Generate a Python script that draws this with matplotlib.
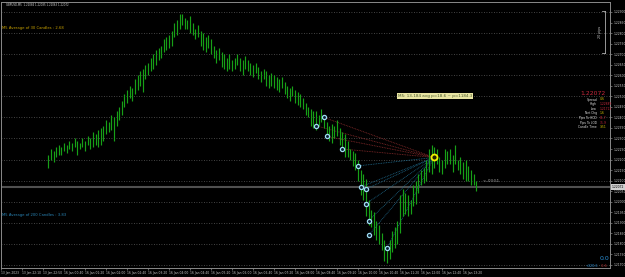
import matplotlib
matplotlib.use("Agg")
import matplotlib.pyplot as plt

# ---------------- data ----------------
symbol_title = "GBPUSD,M5  1.22084 1.22085 1.22063 1.22072"
first_bar = 18
bar_highs = [
    1.2222, 1.2225, 1.2224, 1.2226, 1.2227, 1.2226, 1.2228, 1.2227, 1.2229, 1.2228,
    1.2230, 1.2229, 1.2228, 1.2230, 1.2229, 1.2231, 1.2230, 1.2233, 1.2232, 1.2234,
    1.2235, 1.2236, 1.2239, 1.2238, 1.2241, 1.2240, 1.2243, 1.2245, 1.2248, 1.2251,
    1.2253, 1.2255, 1.2254, 1.2258, 1.2260, 1.2262, 1.2263, 1.2265, 1.2266, 1.2268,
    1.2270, 1.2272, 1.2273, 1.2274, 1.2277, 1.2278, 1.2279, 1.2281, 1.2285, 1.2286,
    1.2289, 1.2289, 1.2287, 1.2286, 1.2288, 1.2285, 1.2282, 1.2284, 1.2281, 1.2280,
    1.2278, 1.2279, 1.2277, 1.2274, 1.2272, 1.2273, 1.2271, 1.2270, 1.2268, 1.2270,
    1.2267, 1.2268, 1.2270, 1.2268, 1.2267, 1.2269, 1.2267, 1.2266, 1.2265, 1.2266,
    1.2264, 1.2262, 1.2263, 1.2262, 1.2260, 1.2261, 1.2260, 1.2259, 1.2258, 1.2259,
    1.2257, 1.2255, 1.2254, 1.2255, 1.2253, 1.2252, 1.2251, 1.2249, 1.2247, 1.2245,
    1.2244, 1.2243, 1.2243, 1.2241, 1.2244, 1.2241, 1.2238, 1.2236, 1.2237, 1.2236,
    1.2239, 1.2235, 1.2233, 1.2232, 1.2229, 1.2225, 1.2224, 1.2223, 1.2220, 1.2215,
    1.2213, 1.2211, 1.2201, 1.2196, 1.2195, 1.2191, 1.2189, 1.2185, 1.2182, 1.2178,
    1.2182, 1.2186, 1.2188, 1.2191, 1.2203, 1.2206, 1.2204, 1.2203, 1.2201, 1.2208,
    1.2210, 1.2213, 1.2215, 1.2216, 1.2220, 1.2225, 1.2227, 1.2226, 1.2225, 1.2221,
    1.2220, 1.2225, 1.2224, 1.2225, 1.2222, 1.2227, 1.2220, 1.2221, 1.2219, 1.2220,
    1.2217, 1.2215, 1.2213, 1.2210,
]
bar_lows = [
    1.2216, 1.2220, 1.2219, 1.2221, 1.2222, 1.2222, 1.2224, 1.2223, 1.2225, 1.2224,
    1.2226, 1.2222, 1.2225, 1.2226, 1.2224, 1.2227, 1.2225, 1.2226, 1.2227, 1.2226,
    1.2227, 1.2229, 1.2232, 1.2233, 1.2234, 1.2229, 1.2236, 1.2239, 1.2241, 1.2245,
    1.2247, 1.2249, 1.2248, 1.2251, 1.2253, 1.2255, 1.2252, 1.2258, 1.2260, 1.2262,
    1.2263, 1.2265, 1.2267, 1.2268, 1.2271, 1.2272, 1.2273, 1.2274, 1.2278, 1.2279,
    1.2282, 1.2284, 1.2282, 1.2282, 1.2280, 1.2279, 1.2277, 1.2278, 1.2274, 1.2272,
    1.2271, 1.2273, 1.2270, 1.2268, 1.2266, 1.2267, 1.2264, 1.2263, 1.2262, 1.2263,
    1.2262, 1.2263, 1.2265, 1.2262, 1.2260, 1.2263, 1.2262, 1.2260, 1.2259, 1.2261,
    1.2258, 1.2257, 1.2258, 1.2255, 1.2254, 1.2255, 1.2254, 1.2253, 1.2252, 1.2254,
    1.2251, 1.2249, 1.2248, 1.2250, 1.2247, 1.2246, 1.2245, 1.2244, 1.2241, 1.2240,
    1.2236, 1.2235, 1.2234, 1.2236, 1.2238, 1.2235, 1.2232, 1.2229, 1.2228, 1.2230,
    1.2231, 1.2227, 1.2225, 1.2221, 1.2221, 1.2220, 1.2217, 1.2215, 1.2210, 1.2203,
    1.2201, 1.2193, 1.2189, 1.2188, 1.2184, 1.2182, 1.2180, 1.2177, 1.2172, 1.2171,
    1.2173, 1.2176, 1.2178, 1.2180, 1.2185, 1.2193, 1.2194, 1.2193, 1.2194, 1.2198,
    1.2199, 1.2204, 1.2208, 1.2209, 1.2210, 1.2214, 1.2213, 1.2216, 1.2218, 1.2214,
    1.2213, 1.2216, 1.2218, 1.2218, 1.2214, 1.2218, 1.2215, 1.2213, 1.2211, 1.2210,
    1.2210, 1.2208, 1.2208, 1.2205,
]
bid_price = 1.22072

time_labels = [
    "13 Jan 2023", "13 Jan 22:10", "13 Jan 22:50", "16 Jan 00:40", "16 Jan 01:20",
    "16 Jan 02:00", "16 Jan 02:40", "16 Jan 03:20", "16 Jan 04:00", "16 Jan 04:40",
    "16 Jan 05:20", "16 Jan 06:00", "16 Jan 06:40", "16 Jan 07:20", "16 Jan 08:00",
    "16 Jan 08:40", "16 Jan 09:20", "16 Jan 10:00", "16 Jan 10:40", "16 Jan 11:20",
    "16 Jan 12:00", "16 Jan 12:40", "16 Jan 13:20",
]
bars_per_label = 8

price_labels = [1.21700, 1.21750, 1.21800, 1.21850, 1.21900, 1.21950, 1.22000,
                1.22050, 1.22100, 1.22150, 1.22200, 1.22250, 1.22300, 1.22350,
                1.22400, 1.22450, 1.22500, 1.22550, 1.22600, 1.22650, 1.22700,
                1.22750, 1.22800, 1.22850, 1.22900]
grid_levels = [1.2170, 1.2180, 1.2190, 1.2200, 1.2210, 1.2220, 1.2230,
               1.2240, 1.2250, 1.2260, 1.2270, 1.2280, 1.2290]

pivot_bar, pivot_price = 165, 1.2221
upper_pts_bar = [123, 120, 124, 130]
upper_pts_price = [1.2240, 1.2236, 1.2231, 1.2225]
lower_pts_bar = [136, 137, 139, 139, 140, 140, 147]
lower_pts_price = [1.2217, 1.2207, 1.2206, 1.2199, 1.2191, 1.2184, 1.2178]

info_labels = ["Spread", "High", "Low", "Net Chg", "Pips To HOD", "Pips To LOD", "Candle Time"]
info_values = ["0.6", "1.22889", "1.21713", "1.6", "81.7", "35.9", "3:51"]
info_colors = ["#d8c400", "#c8283c", "#c8283c", "#d8c400", "#c8283c", "#c8283c", "#d8c400"]

# ---------------- figure ----------------
W, H = 625, 277
fig = plt.figure(figsize=(W / 100, H / 100), dpi=100, facecolor="black")


def px(x, y):
    return x / W, 1 - y / H


ax_left, ax_top, ax_right, ax_bottom = 1, 2, 610, 268
ax = fig.add_axes([ax_left / W, 1 - ax_bottom / H,
                   (ax_right - ax_left) / W, (ax_bottom - ax_top) / H])
ax.set_facecolor("black")
ax.set_xlim(0, (ax_right - ax_left) / 2.625)
ax.set_ylim(1.216856, 1.229474)

for s in ax.spines.values():
    s.set_color("#8a8a8a")
    s.set_linewidth(0.7)

# grid
ax.hlines(grid_levels, *ax.get_xlim(), colors="#5a5a5a", linestyles=(0, (1, 2)), lw=0.6, zorder=1)

# bid line
ax.axhline(bid_price, color="#505050", lw=1.5, zorder=1)

# bars
bars = list(range(first_bar, first_bar + len(bar_highs)))
ax.vlines(bars, bar_lows, bar_highs, colors="#17a017", lw=0.85, zorder=3)

# fan lines
for b, p in zip(upper_pts_bar, upper_pts_price):
    ax.plot([b, pivot_bar], [p, pivot_price], color="#8a2c2c", lw=0.6,
            linestyle=(0, (1, 1)), zorder=2)
for b, p in zip(lower_pts_bar, lower_pts_price):
    ax.plot([b, pivot_bar], [p, pivot_price], color="#1f6a8c", lw=0.6,
            linestyle=(0, (1, 1)), zorder=2)
ax.plot(upper_pts_bar + lower_pts_bar, upper_pts_price + lower_pts_price, "o",
        ms=3.0, mfc="#0a2030", mec="#9fdcf2", mew=0.9, zorder=5)
ax.plot([pivot_bar], [pivot_price], "o", ms=4.3, mfc="#202000", mec="#f0f000",
        mew=1.3, zorder=6)

# axes ticks
ax.yaxis.tick_right()
ax.set_yticks(price_labels)
ax.set_yticklabels([f"{v:.5f}" for v in price_labels])
ax.set_xticks([i * bars_per_label for i in range(len(time_labels))])
ax.set_xticklabels(time_labels, ha="left")
ax.tick_params(axis="both", colors="#8a8a8a", labelcolor="#c8c8c8", labelsize=2.2,
               length=1.5, width=0.5, pad=0.8)

# texts
fig.text(*px(6, 5), symbol_title, color="#d0d0d0", fontsize=1.9, va="center", ha="left")
fig.text(*px(2, 28), "M5 Average of 30 Candles : 2.68", color="#c8a200",
         fontsize=2.7, va="center", ha="left")
fig.text(*px(2, 215), "M5 Average of 200 Candles : 3.83", color="#2a86b8",
         fontsize=2.7, va="center", ha="left")

# pips bracket
fig.add_artist(plt.Line2D([604.5 / W, 604.5 / W], [1 - 11 / H, 1 - 53 / H],
                          color="#b0b0b0", lw=0.6))
for yy in (11, 53):
    fig.add_artist(plt.Line2D([601.5 / W, 604.5 / W], [1 - yy / H, 1 - yy / H],
                              color="#b0b0b0", lw=0.6))
fig.text(*px(600.5, 32), "20 pips", color="#c8c8c8", fontsize=2.4, rotation=90,
         va="center", ha="center")

# yellow info box
fig.text(*px(435, 96), "M5: 13-184 avg p=18.6 ~ p=1184.3", color="#4a5a2a",
         fontsize=3.0, va="center", ha="center",
         bbox=dict(facecolor="#e8e4a2", edgecolor="none", pad=0.8))

# price panel
fig.text(*px(606, 94), "1.22072", color="#c8283c", fontsize=4.4, va="center", ha="right")
for i, (lab, val, col) in enumerate(zip(info_labels, info_values, info_colors)):
    y = 99.5 + i * 4.6
    fig.text(*px(597, y), lab, color="#e0e0e0", fontsize=2.2, va="center", ha="right")
    fig.text(*px(600, y), val, color=col, fontsize=2.2, va="center", ha="left")

# candle timer
fig.text(*px(483, 181), "<--03:51", color="#b0b0b0", fontsize=2.8, va="center", ha="left")

# current price tag on axis
fig.text(*px(612, 187), "1.22072", color="black", fontsize=2.2, va="center", ha="left",
         bbox=dict(facecolor="#d0d0d0", edgecolor="none", pad=0.6))

# bottom right counters
fig.text(*px(604, 259), "0.0", color="#2a90d8", fontsize=4.5, va="center", ha="center")
fig.text(*px(598, 266), "+320.6", color="#2a90d8", fontsize=2.4, va="center", ha="right")
fig.text(*px(601, 266), "-0.6", color="#c03030", fontsize=2.4, va="center", ha="left")

fig.savefig("out.png", dpi=100, facecolor="black")
